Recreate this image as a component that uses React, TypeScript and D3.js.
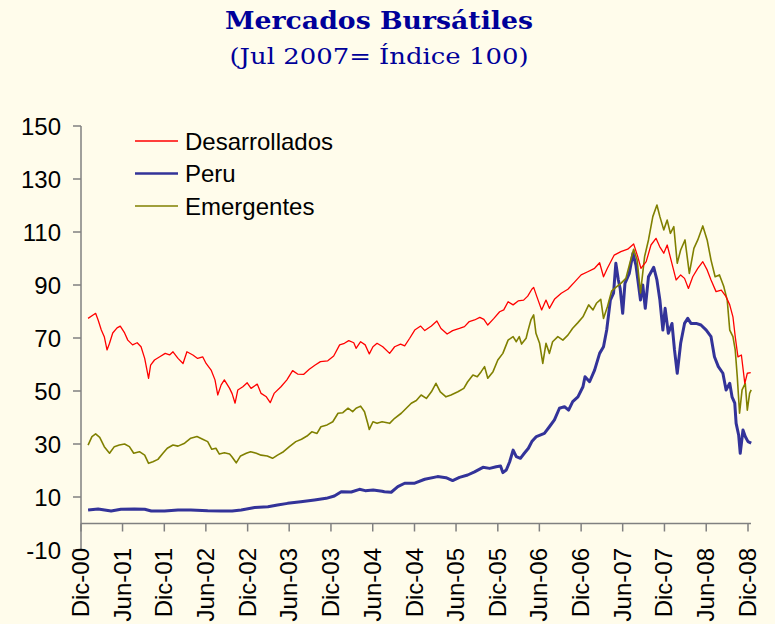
import React from "react";
import * as d3 from "d3";

const title = "Mercados Bursátiles";
const subtitle = "(Jul 2007= Índice 100)";

const seriesNames = ["Desarrollados", "Peru", "Emergentes"];

const xTickLabels = [
  "Dic-00", "Jun-01", "Dic-01", "Jun-02", "Dic-02", "Jun-03", "Dic-03", "Jun-04", "Dic-04",
  "Jun-05", "Dic-05", "Jun-06", "Dic-06", "Jun-07", "Dic-07", "Jun-08", "Dic-08",
];
const xTickDates = [
  "2000-12-01", "2001-06-01", "2001-12-01", "2002-06-01", "2002-12-01", "2003-06-01", "2003-12-01",
  "2004-06-01", "2004-12-01", "2005-06-01", "2005-12-01", "2006-06-01", "2006-12-01", "2007-06-01",
  "2007-12-01", "2008-06-01", "2008-12-01",
];
const yTicks = [-10, 10, 30, 50, 70, 90, 110, 130, 150];

const desarrollados: [string, number][] = [
  ["2001-01-01", 77.4], ["2001-01-23", 78.7], ["2001-02-03", 79.3], ["2001-02-14", 76.8],
  ["2001-02-28", 73.0], ["2001-03-13", 70.5], ["2001-03-25", 65.5], ["2001-04-05", 68.0],
  ["2001-04-19", 71.9], ["2001-05-08", 73.8], ["2001-05-22", 74.5], ["2001-06-10", 71.9],
  ["2001-06-24", 69.2], ["2001-07-15", 67.4], ["2001-08-04", 68.2], ["2001-08-21", 66.7],
  ["2001-09-06", 62.3], ["2001-09-23", 54.8], ["2001-10-02", 59.8], ["2001-10-19", 61.7],
  ["2001-11-11", 62.9], ["2001-12-05", 64.2], ["2001-12-24", 63.6], ["2002-01-08", 64.8],
  ["2002-01-30", 62.3], ["2002-02-21", 60.4], ["2002-03-10", 64.8], ["2002-04-05", 63.6],
  ["2002-04-26", 62.3], ["2002-05-18", 62.9], ["2002-06-02", 60.4], ["2002-06-24", 57.9],
  ["2002-07-11", 54.2], ["2002-07-23", 48.5], ["2002-08-07", 52.3], ["2002-08-21", 54.2],
  ["2002-09-13", 51.0], ["2002-09-24", 49.0], ["2002-10-07", 45.4], ["2002-10-19", 50.4],
  ["2002-11-10", 51.6], ["2002-11-29", 53.1], ["2002-12-16", 51.0], ["2003-01-12", 52.6],
  ["2003-01-29", 49.1], ["2003-02-21", 47.8], ["2003-03-10", 45.6], ["2003-03-27", 49.1],
  ["2003-04-26", 51.6], ["2003-05-22", 54.2], ["2003-06-16", 57.7], ["2003-07-08", 56.4],
  ["2003-08-04", 56.3], ["2003-08-28", 58.2], ["2003-09-23", 59.8], ["2003-10-16", 61.1],
  ["2003-11-17", 61.4], ["2003-12-13", 63.2], ["2004-01-08", 67.4], ["2004-01-29", 68.0],
  ["2004-02-17", 69.0], ["2004-03-10", 68.2], ["2004-03-20", 66.1], ["2004-04-09", 68.6],
  ["2004-04-29", 67.4], ["2004-05-17", 64.0], ["2004-06-02", 66.7], ["2004-06-20", 68.0],
  ["2004-07-15", 66.7], ["2004-08-14", 64.2], ["2004-09-05", 66.7], ["2004-10-01", 67.7],
  ["2004-10-19", 67.0], ["2004-11-10", 69.9], ["2004-12-02", 73.0], ["2004-12-28", 74.5],
  ["2005-01-15", 72.8], ["2005-02-13", 74.5], ["2005-03-09", 76.4], ["2005-03-27", 73.6],
  ["2005-04-23", 71.5], ["2005-05-17", 72.8], ["2005-06-16", 73.6], ["2005-07-08", 74.3],
  ["2005-07-29", 76.2], ["2005-08-21", 76.8], ["2005-09-13", 77.8], ["2005-10-01", 77.0],
  ["2005-10-18", 74.9], ["2005-11-14", 77.4], ["2005-12-09", 79.9], ["2005-12-27", 80.6],
  ["2006-01-15", 83.7], ["2006-02-06", 82.5], ["2006-02-28", 84.0], ["2006-03-24", 84.3],
  ["2006-04-11", 85.8], ["2006-04-29", 88.4], ["2006-05-07", 89.1], ["2006-05-21", 85.6],
  ["2006-06-11", 80.6], ["2006-06-30", 84.3], ["2006-07-15", 81.2], ["2006-08-06", 84.6],
  ["2006-09-05", 86.9], ["2006-10-04", 88.4], ["2006-11-03", 91.2], ["2006-12-01", 93.8],
  ["2006-12-30", 95.0], ["2007-01-29", 96.3], ["2007-02-20", 98.4], ["2007-03-09", 93.1],
  ["2007-03-26", 96.3], ["2007-04-25", 101.3], ["2007-05-24", 102.6], ["2007-06-23", 103.5],
  ["2007-07-19", 105.5], ["2007-08-06", 100.7], ["2007-08-20", 96.3], ["2007-09-12", 98.8],
  ["2007-10-03", 105.1], ["2007-10-25", 107.6], ["2007-11-10", 104.5], ["2007-11-28", 102.0],
  ["2007-12-13", 105.1], ["2007-12-30", 99.4], ["2008-01-21", 91.9], ["2008-02-10", 93.8],
  ["2008-02-27", 92.5], ["2008-03-15", 88.7], ["2008-04-03", 93.1], ["2008-04-25", 96.3],
  ["2008-05-17", 98.8], ["2008-06-05", 95.7], ["2008-06-22", 91.9], ["2008-07-14", 87.5],
  ["2008-08-06", 88.1], ["2008-08-27", 85.6], ["2008-09-12", 82.5], ["2008-09-26", 78.0],
  ["2008-10-06", 70.5], ["2008-10-18", 62.9], ["2008-11-02", 63.6], ["2008-11-17", 52.9],
  ["2008-11-28", 56.7], ["2008-12-13", 56.9],
];

const peru: [string, number][] = [
  ["2001-01-01", 5.1], ["2001-02-14", 5.5], ["2001-04-12", 4.7], ["2001-05-25", 5.4],
  ["2001-07-23", 5.5], ["2001-09-06", 5.4], ["2001-10-05", 4.7], ["2001-12-02", 4.7],
  ["2002-01-30", 5.1], ["2002-03-27", 5.1], ["2002-06-09", 4.8], ["2002-08-07", 4.7],
  ["2002-09-24", 4.7], ["2002-11-03", 5.1], ["2003-01-01", 6.0], ["2003-02-28", 6.3],
  ["2003-04-11", 7.0], ["2003-05-25", 7.6], ["2003-07-22", 8.2], ["2003-09-20", 8.9],
  ["2003-11-10", 9.5], ["2003-12-16", 10.4], ["2004-01-15", 12.0], ["2004-02-28", 11.9],
  ["2004-04-04", 12.9], ["2004-04-29", 12.4], ["2004-06-03", 12.6], ["2004-07-12", 12.2],
  ["2004-07-22", 12.0], ["2004-08-21", 11.8], ["2004-09-19", 13.9], ["2004-10-19", 15.2],
  ["2004-12-02", 15.2], ["2005-01-15", 16.7], ["2005-03-12", 17.7], ["2005-04-18", 17.3],
  ["2005-05-17", 16.2], ["2005-06-16", 17.4], ["2005-07-22", 18.3], ["2005-08-21", 19.5],
  ["2005-09-27", 21.2], ["2005-10-26", 20.8], ["2005-11-24", 21.4], ["2005-12-13", 21.7],
  ["2005-12-23", 19.2], ["2006-01-07", 20.2], ["2006-01-22", 23.3], ["2006-02-06", 27.7],
  ["2006-02-20", 25.2], ["2006-03-10", 24.6], ["2006-03-27", 26.5], ["2006-04-14", 28.4],
  ["2006-04-29", 30.9], ["2006-05-19", 32.8], ["2006-06-23", 34.0], ["2006-07-15", 36.5],
  ["2006-08-06", 39.1], ["2006-08-28", 43.5], ["2006-09-19", 44.1], ["2006-10-07", 42.8],
  ["2006-10-25", 46.0], ["2006-11-17", 47.8], ["2006-12-09", 51.6], ["2006-12-18", 55.4],
  ["2007-01-07", 53.5], ["2007-01-29", 57.9], ["2007-02-20", 64.2], ["2007-03-09", 66.7],
  ["2007-03-23", 73.0], ["2007-04-08", 84.3], ["2007-04-22", 86.9], ["2007-05-02", 98.2],
  ["2007-05-13", 91.9], ["2007-05-21", 88.7], ["2007-06-01", 79.3], ["2007-06-11", 90.6],
  ["2007-06-30", 94.4], ["2007-07-16", 102.0], ["2007-07-29", 97.5], ["2007-08-18", 84.3],
  ["2007-08-28", 90.0], ["2007-09-08", 81.2], ["2007-09-22", 93.1], ["2007-10-15", 96.7],
  ["2007-10-29", 91.9], ["2007-11-11", 84.3], ["2007-11-24", 73.0], ["2007-12-04", 81.2],
  ["2007-12-18", 71.8], ["2008-01-03", 75.5], ["2008-01-14", 65.5], ["2008-01-26", 56.7],
  ["2008-02-10", 68.0], ["2008-02-27", 75.5], ["2008-03-12", 77.4], ["2008-03-26", 75.5],
  ["2008-04-18", 75.5], ["2008-05-09", 74.9], ["2008-06-01", 73.0], ["2008-06-22", 70.5],
  ["2008-07-07", 62.9], ["2008-07-24", 59.2], ["2008-08-13", 56.7], ["2008-08-27", 50.4],
  ["2008-09-12", 52.9], ["2008-09-22", 47.8], ["2008-10-04", 45.4], ["2008-10-10", 37.8],
  ["2008-10-21", 33.4], ["2008-10-28", 26.5], ["2008-11-09", 35.3], ["2008-11-19", 32.8],
  ["2008-12-01", 30.9], ["2008-12-15", 30.3],
];

const emergentes: [string, number][] = [
  ["2001-01-01", 29.6], ["2001-01-18", 32.8], ["2001-02-03", 33.8], ["2001-02-21", 32.5],
  ["2001-03-13", 29.0], ["2001-04-05", 26.5], ["2001-04-26", 29.0], ["2001-05-18", 29.6],
  ["2001-06-10", 30.0], ["2001-07-01", 29.0], ["2001-07-20", 26.5], ["2001-08-14", 27.1],
  ["2001-09-06", 25.8], ["2001-09-23", 22.7], ["2001-10-12", 23.3], ["2001-11-03", 24.2],
  ["2001-11-25", 26.5], ["2001-12-14", 28.4], ["2002-01-08", 29.6], ["2002-01-30", 29.2],
  ["2002-02-28", 30.3], ["2002-03-27", 32.2], ["2002-04-23", 32.8], ["2002-05-18", 31.8],
  ["2002-06-09", 30.9], ["2002-06-27", 28.0], ["2002-07-15", 28.4], ["2002-07-30", 26.2],
  ["2002-08-21", 26.7], ["2002-09-13", 26.2], ["2002-09-23", 25.2], ["2002-10-12", 22.9],
  ["2002-10-31", 25.5], ["2002-11-25", 26.5], ["2002-12-14", 27.1], ["2003-01-08", 26.5],
  ["2003-01-29", 25.8], ["2003-02-25", 25.5], ["2003-03-20", 24.6], ["2003-04-11", 25.8],
  ["2003-05-07", 27.1], ["2003-06-02", 29.0], ["2003-06-30", 30.9], ["2003-07-25", 31.8],
  ["2003-08-18", 33.0], ["2003-09-08", 34.6], ["2003-10-01", 34.0], ["2003-10-18", 36.5],
  ["2003-11-14", 37.2], ["2003-12-09", 38.4], ["2004-01-01", 41.6], ["2004-01-22", 41.8],
  ["2004-02-14", 43.5], ["2004-03-05", 42.2], ["2004-03-20", 43.5], ["2004-04-09", 44.3],
  ["2004-04-26", 42.2], ["2004-05-10", 37.8], ["2004-05-17", 35.5], ["2004-06-02", 38.4],
  ["2004-06-20", 37.8], ["2004-07-12", 38.4], ["2004-08-14", 37.8], ["2004-09-05", 39.7],
  ["2004-10-04", 41.6], ["2004-10-26", 43.5], ["2004-11-17", 45.4], ["2004-12-09", 46.4],
  ["2004-12-30", 48.5], ["2005-01-22", 47.2], ["2005-02-13", 49.7], ["2005-03-05", 52.9],
  ["2005-03-24", 49.7], ["2005-04-18", 47.8], ["2005-05-10", 48.5], ["2005-06-09", 49.7],
  ["2005-07-05", 51.0], ["2005-07-22", 53.5], ["2005-08-14", 56.0], ["2005-09-02", 55.4],
  ["2005-09-19", 57.3], ["2005-10-04", 59.2], ["2005-10-18", 54.8], ["2005-11-10", 57.3],
  ["2005-12-01", 61.7], ["2005-12-23", 64.2], ["2006-01-15", 69.2], ["2006-02-06", 70.5],
  ["2006-02-20", 68.6], ["2006-03-05", 70.5], ["2006-03-15", 67.7], ["2006-04-04", 69.9],
  ["2006-04-11", 72.4], ["2006-04-25", 76.8], ["2006-05-07", 78.7], ["2006-05-17", 71.8],
  ["2006-06-02", 68.0], ["2006-06-16", 60.4], ["2006-06-30", 68.0], ["2006-07-15", 64.2],
  ["2006-07-29", 68.6], ["2006-08-21", 70.5], ["2006-09-12", 69.2], ["2006-10-04", 71.1],
  ["2006-10-25", 73.7], ["2006-11-17", 75.8], ["2006-12-09", 78.0], ["2007-01-03", 82.5],
  ["2007-01-22", 80.6], ["2007-02-06", 83.1], ["2007-02-25", 84.6], ["2007-03-09", 77.4],
  ["2007-03-26", 81.8], ["2007-04-14", 87.8], ["2007-05-02", 89.1], ["2007-05-24", 90.6],
  ["2007-06-15", 92.5], ["2007-07-04", 98.8], ["2007-07-19", 103.5], ["2007-08-03", 99.5],
  ["2007-08-18", 87.0], ["2007-09-05", 100.7], ["2007-09-22", 107.0], ["2007-10-11", 115.8],
  ["2007-10-29", 120.2], ["2007-11-11", 115.8], ["2007-11-28", 110.8], ["2007-12-13", 114.5],
  ["2007-12-27", 109.5], ["2008-01-11", 112.0], ["2008-01-26", 98.2], ["2008-02-10", 103.2],
  ["2008-02-29", 107.0], ["2008-03-19", 94.4], ["2008-04-08", 103.8], ["2008-04-25", 107.0],
  ["2008-05-17", 112.3], ["2008-06-05", 107.0], ["2008-06-22", 99.4], ["2008-07-10", 93.1],
  ["2008-07-29", 93.8], ["2008-08-17", 89.4], ["2008-09-01", 84.3], ["2008-09-12", 73.0],
  ["2008-09-26", 70.5], ["2008-10-06", 65.5], ["2008-10-15", 55.4], ["2008-10-25", 41.6],
  ["2008-11-05", 50.4], ["2008-11-19", 52.9], ["2008-11-28", 42.8], ["2008-12-08", 49.1],
  ["2008-12-15", 50.4],
];

const parse = d3.timeParse("%Y-%m-%d");

export default function App() {
  const W = 775;
  const H = 624;
  const x = d3
    .scaleTime()
    .domain([parse("2000-12-01") as Date, parse("2008-12-01") as Date])
    .range([81, 748]);
  const y = d3.scaleLinear().domain([-10, 150]).range([550, 126]);

  const line = d3
    .line<[string, number]>()
    .x((d) => x(parse(d[0]) as Date))
    .y((d) => y(d[1]));

  const series = [
    { name: seriesNames[0], data: desarrollados, color: "#FF0000", width: 1.3 },
    { name: seriesNames[1], data: peru, color: "#333399", width: 3 },
    { name: seriesNames[2], data: emergentes, color: "#808000", width: 1.6 },
  ];
  const drawOrder = [series[1], series[2], series[0]];

  const axisColor = "#808080";
  const font = "'Liberation Sans', Arial, sans-serif";
  const fs = 24;
  const x0 = x(parse("2000-12-01") as Date);
  const y0 = y(0);

  return (
    <svg
      width={W}
      height={H}
      style={{ position: "absolute", left: 0, top: 0, display: "block" }}
    >
      <rect x={0} y={0} width={W} height={H} fill="#FFFCEB" />
      <text
        x={379}
        y={29}
        textAnchor="middle"
        fontFamily="'DejaVu Serif', serif"
        fontWeight="bold"
        fontSize={25}
        textLength={308}
        lengthAdjust="spacingAndGlyphs"
        fill="#000099"
      >
        {title}
      </text>
      <text
        x={379}
        y={64}
        textAnchor="middle"
        fontFamily="'DejaVu Serif', serif"
        fontSize={23}
        textLength={299}
        lengthAdjust="spacingAndGlyphs"
        fill="#000099"
      >
        {subtitle}
      </text>

      {drawOrder.map((s) => (
        <path
          key={s.name}
          d={line(s.data) || ""}
          fill="none"
          stroke={s.color}
          strokeWidth={s.width}
          strokeLinejoin="round"
        />
      ))}

      {/* y axis */}
      <line x1={x0} x2={x0} y1={y(150)} y2={y(-10)} stroke={axisColor} strokeWidth={1.5} />
      {yTicks.map((t) => (
        <g key={t}>
          <line x1={x0 - 8} x2={x0} y1={y(t)} y2={y(t)} stroke={axisColor} strokeWidth={1.5} />
          <text
            x={61}
            y={y(t)}
            dy="0.36em"
            textAnchor="end"
            fontFamily={font}
            fontSize={fs}
            fill="#000"
          >
            {t}
          </text>
        </g>
      ))}

      {/* x axis */}
      <line x1={x0} x2={751} y1={y0} y2={y0} stroke={axisColor} strokeWidth={1.5} />
      {xTickDates.map((d, i) => {
        const xp = x(parse(d) as Date);
        return (
          <g key={d}>
            <line x1={xp} x2={xp} y1={y0} y2={y0 + 8} stroke={axisColor} strokeWidth={1.5} />
            <text
              transform={`translate(${xp + 8},548) rotate(-90)`}
              textAnchor="end"
              fontFamily={font}
              fontSize={fs}
              fill="#000"
            >
              {xTickLabels[i]}
            </text>
          </g>
        );
      })}

      {/* legend */}
      {series.map((s, i) => (
        <g key={s.name} transform={`translate(0,${141 + i * 32.5})`}>
          <line x1={135} x2={178} y1={0} y2={0} stroke={s.color} strokeWidth={s.width === 3 ? 2.5 : 1.5} />
          <text x={185} y={0} dy="0.36em" fontFamily={font} fontSize={fs} fill="#000">
            {s.name}
          </text>
        </g>
      ))}
    </svg>
  );
}
